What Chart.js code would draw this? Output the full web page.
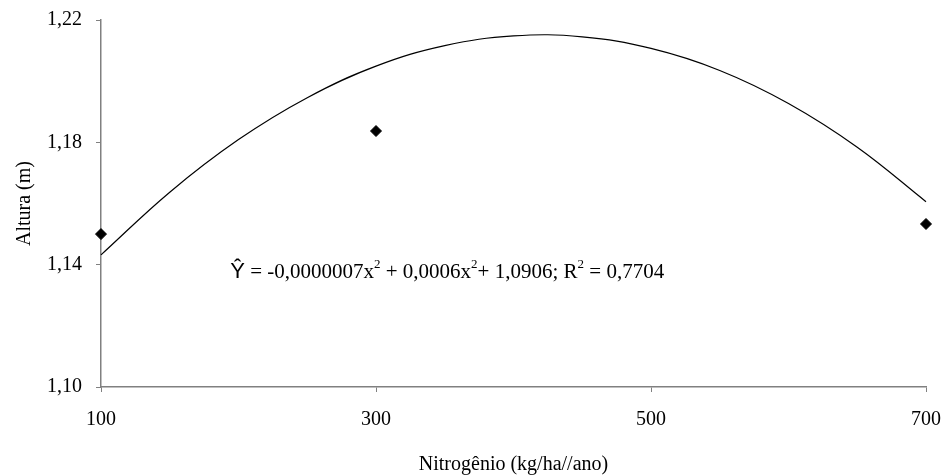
<!DOCTYPE html>
<html>
<head>
<meta charset="utf-8">
<script src="https://cdn.jsdelivr.net/npm/chart.js@4/dist/chart.umd.min.js"></script>
<style>
  html, body { margin: 0; padding: 0; background: #fff; }
  #chartContainer { width: 947px; height: 475px; }
</style>
</head>
<body>
<div id="chartContainer"><canvas id="chartAltura"></canvas></div>
<script>
// doses de nitrogênio observadas e altura média
const doses = [100, 300, 700];
const altura = [1.150, 1.1837, 1.1533];

// curva ajustada
const curvaX = [100, 150, 200, 250, 300, 350, 400, 450, 500, 550, 600, 650, 700];
const curvaY = [1.1432, 1.1637, 1.1809, 1.1946, 1.2049, 1.2116, 1.2148, 1.2145, 1.2107, 1.2035, 1.1927, 1.1784, 1.1606];

const ticksX = [100, 300, 500, 700];
const ticksY = [1.10, 1.14, 1.18, 1.22];

const text_equacao = [
  ['Ŷ', 0], [' = -0,0000007x', 0], ['2', 1], [' + 0,0006x', 0], ['2', 1],
  ['+ 1,0906; R', 0], ['2', 1], [' = 0,7704', 0],
];
const posEquacao = { x: 194, y: 1.1376 };

const serif = '"Liberation Serif", "Times New Roman", serif';

/* texto da equação desenhado sobre o gráfico */
const equacaoPlugin = {
  id: 'equacao',
  afterDatasetsDraw(chart) {
    const ctx = chart.ctx;
    let x = chart.scales.x.getPixelForValue(posEquacao.x);
    const y = chart.scales.y.getPixelForValue(posEquacao.y);
    ctx.save();
    ctx.fillStyle = '#000';
    ctx.textBaseline = 'middle';
    ctx.textAlign = 'left';
    text_equacao.forEach(function (seg) {
      if (seg[1]) {
        ctx.font = '13px ' + serif;
        ctx.fillText(seg[0], x, y - 7);
      } else if (seg[0] === 'Ŷ') {
        ctx.font = '22px "Liberation Sans", Arial, sans-serif';
        ctx.fillText(seg[0], x, y);
      } else {
        ctx.font = '21px ' + serif;
        ctx.fillText(seg[0], x, y);
      }
      x += ctx.measureText(seg[0]).width;
    });
    ctx.restore();
  },
};

function chart() {
  const chart_ctx = document.getElementById('chartAltura');
  const pontos = doses.map(function (d, i) { return { x: d, y: altura[i] }; });
  const curva = curvaX.map(function (d, i) { return { x: d, y: curvaY[i] }; });

  new Chart(chart_ctx, {
    type: 'scatter',
    data: {
      datasets: [
        {
          data: curva,
          showLine: true,
          borderColor: '#000',
          borderWidth: 1.2,
          pointRadius: 0,
          tension: 0.4,
          clip: false,
        },
        {
          data: pontos,
          pointStyle: 'rectRot',
          pointRadius: 5.5,
          backgroundColor: '#000',
          borderColor: '#000',
          clip: false,
        },
      ],
    },
    options: {
      responsive: false,
      animation: false,
      layout: { padding: { top: 20, right: 21, left: 0, bottom: 0 } },
      plugins: {
        legend: { display: false },
        tooltip: { enabled: false },
      },
      scales: {
        x: {
          type: 'linear',
          min: 100,
          max: 700,
          afterBuildTicks: function (s) { s.ticks = ticksX.map(function (v) { return { value: v }; }); },
          afterFit: function (s) {
            s.height = 88;
            s.paddingLeft = 0;
            s.paddingRight = 0;
          },
          ticks: {
            color: '#000',
            padding: 16,
            font: { family: serif, size: 20 },
          },
          grid: { drawOnChartArea: false, drawTicks: true, tickLength: 5, color: '#808080' },
          border: { color: '#808080', width: 1.5 },
          title: {
            display: true,
            text: 'Nitrogênio (kg/ha//ano)',
            color: '#000',
            font: { family: serif, size: 20 },
            padding: { top: 20, bottom: -2 },
          },
        },
        y: {
          min: 1.10,
          max: 1.22,
          afterBuildTicks: function (s) { s.ticks = ticksY.map(function (v) { return { value: v }; }); },
          afterFit: function (s) {
            s.width = 101;
            s.paddingTop = 0;
            s.paddingBottom = 0;
          },
          ticks: {
            color: '#000',
            padding: 14,
            font: { family: serif, size: 20 },
            callback: function (v) { return v.toFixed(2).replace('.', ','); },
          },
          grid: { drawOnChartArea: false, drawTicks: true, tickLength: 5, color: '#808080' },
          border: { color: '#808080', width: 1.5 },
          title: {
            display: true,
            text: 'Altura (m)',
            color: '#000',
            font: { family: serif, size: 20 },
            padding: { top: 13, bottom: 4 },
          },
        },
      },
    },
    plugins: [equacaoPlugin],
  });
}

chart_ctx_el = document.getElementById('chartAltura');
chart_ctx_el.width = 947;
chart_ctx_el.height = 475;
chart();
</script>
</body>
</html>
